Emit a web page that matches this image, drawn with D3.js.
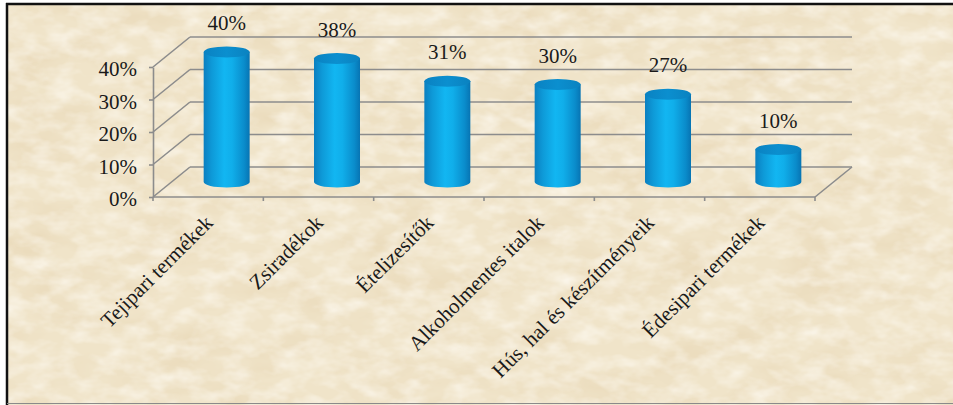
<!DOCTYPE html>
<html>
<head>
<meta charset="utf-8">
<script src="https://cdn.jsdelivr.net/npm/d3@7/dist/d3.min.js"></script>
<style>
  html, body { margin: 0; padding: 0; background: #ffffff; }
  svg { display: block; }
</style>
</head>
<body>
<svg id="chart" width="953" height="405"></svg>
<script>
// ---- data ----
const categories = ["Tejipari termékek", "Zsiradékok", "Ételizesítők", "Alkoholmentes italok", "Hús, hal és készítményeik", "Édesipari termékek"];
const values = [40, 38, 31, 30, 27, 10];
const yTicks = [0, 10, 20, 30, 40];
const tickLabels = ["0%", "10%", "20%", "30%", "40%"];

// ---- layout ----
const W = 953, H = 405;
const front = { left: 153, right: 815, bottom: 197, top: 67 };
const depth = { dx: 37, dy: -30 };
const serif = "'Liberation Serif', 'Times New Roman', serif";

const svg = d3.select("#chart");
const defs = svg.append("defs");

// paper texture
const f = defs.append("filter").attr("id", "paper").attr("x", 0).attr("y", 0).attr("width", 1).attr("height", 1);
f.append("feTurbulence").attr("type", "fractalNoise").attr("baseFrequency", "0.014 0.03").attr("numOctaves", 4).attr("seed", 7).attr("result", "n");
f.append("feColorMatrix").attr("in", "n").attr("type", "matrix")
  .attr("values", "0 0 0 0 0.78  0 0 0 0 0.64  0 0 0 0 0.42  1.1 0 0 0 -0.45");
const f2 = defs.append("filter").attr("id", "paper2").attr("x", 0).attr("y", 0).attr("width", 1).attr("height", 1);
f2.append("feTurbulence").attr("type", "fractalNoise").attr("baseFrequency", "0.04 0.07").attr("numOctaves", 3).attr("seed", 21).attr("result", "n");
f2.append("feColorMatrix").attr("in", "n").attr("type", "matrix")
  .attr("values", "0 0 0 0 1  0 0 0 0 0.98  0 0 0 0 0.93  1.2 0 0 0 -0.45");

// cylinder gradients
const gBody = defs.append("linearGradient").attr("id", "body").attr("x1", "0").attr("x2", "1").attr("y1", "0").attr("y2", "0");
[["0%", "#0b7fc0"], ["18%", "#0e9ad8"], ["45%", "#12b6f2"], ["62%", "#10aeea"], ["88%", "#0a8ccb"], ["100%", "#0774b3"]]
  .forEach(([o, c]) => gBody.append("stop").attr("offset", o).attr("stop-color", c));
const gTop = defs.append("linearGradient").attr("id", "top").attr("x1", "0").attr("x2", "1").attr("y1", "0").attr("y2", "0");
[["0%", "#0a82c2"], ["50%", "#0b8fcf"], ["100%", "#0a82c0"]]
  .forEach(([o, c]) => gTop.append("stop").attr("offset", o).attr("stop-color", c));

// background
svg.append("rect").attr("x", 7).attr("y", 4).attr("width", W - 7).attr("height", H - 4).attr("fill", "#f0e4c9");
svg.append("rect").attr("x", 7).attr("y", 4).attr("width", W - 7).attr("height", H - 4).attr("filter", "url(#paper)");
svg.append("rect").attr("x", 7).attr("y", 4).attr("width", W - 7).attr("height", H - 4).attr("filter", "url(#paper2)");

// frame
svg.append("line").attr("x1", 6).attr("x2", W).attr("y1", 4).attr("y2", 4).attr("stroke", "#111").attr("stroke-width", 2.5);
svg.append("line").attr("x1", 7).attr("x2", 7).attr("y1", 3).attr("y2", H).attr("stroke", "#111").attr("stroke-width", 2.5);
svg.append("line").attr("x1", 7).attr("x2", W).attr("y1", 403.5).attr("y2", 403.5).attr("stroke", "#8a8a8a").attr("stroke-width", 1);

// ---- scales ----
const x = d3.scaleBand().domain(categories).range([front.left, front.right]).paddingInner(0).paddingOuter(0);
const y = d3.scaleLinear().domain([0, 40]).range([front.bottom, front.top]);

const grid = svg.append("g").attr("stroke", "#8c8c8c").attr("stroke-width", 1.6).attr("fill", "none");
// back wall gridlines + side wall diagonals
yTicks.forEach(t => {
  grid.append("line")
    .attr("x1", front.left + depth.dx).attr("x2", front.right + depth.dx)
    .attr("y1", y(t) + depth.dy).attr("y2", y(t) + depth.dy);
  grid.append("line")
    .attr("x1", front.left).attr("x2", front.left + depth.dx)
    .attr("y1", y(t)).attr("y2", y(t) + depth.dy);
});
// floor front edge and right edge
grid.append("line").attr("x1", front.left).attr("x2", front.right).attr("y1", front.bottom).attr("y2", front.bottom);
grid.append("line").attr("x1", front.right).attr("x2", front.right + depth.dx).attr("y1", front.bottom).attr("y2", front.bottom + depth.dy);
// category boundary ticks
const bounds = categories.map(c => x(c)).concat([front.right]);
bounds.forEach(b => grid.append("line").attr("x1", b).attr("x2", b).attr("y1", front.bottom).attr("y2", front.bottom + 4));

// y axis
const yAxis = d3.axisLeft(y).tickValues(yTicks).tickFormat((d, i) => tickLabels[i]).tickSize(4).tickSizeOuter(0).tickPadding(12);
const ya = svg.append("g").attr("transform", `translate(${front.left},0)`).call(yAxis);
ya.select(".domain").attr("stroke", "#8c8c8c").attr("stroke-width", 1.6);
ya.selectAll(".tick line").attr("stroke", "#8c8c8c").attr("stroke-width", 1.6);
ya.selectAll(".tick text").attr("font-family", serif).attr("font-size", 21).attr("fill", "#1a1a1a").attr("dy", "0.42em");

// ---- cylinders ----
const rx = 23, ry = 5.5;
const cx = c => x(c) + x.bandwidth() / 2 + depth.dx / 2;
const yMid = v => y(v) + depth.dy / 2;

const bars = svg.append("g");
categories.forEach((c, i) => {
  const v = values[i];
  const xc = cx(c), yb = yMid(0), yt = yMid(v);
  bars.append("path")
    .attr("d", `M${xc - rx},${yt} L${xc - rx},${yb} A${rx},${ry} 0 0 0 ${xc + rx},${yb} L${xc + rx},${yt} Z`)
    .attr("fill", "url(#body)");
  bars.append("ellipse").attr("cx", xc).attr("cy", yt).attr("rx", rx).attr("ry", ry).attr("fill", "url(#top)");
});

// value labels
svg.append("g").selectAll("text").data(values).join("text")
  .attr("x", (d, i) => cx(categories[i]))
  .attr("y", d => yMid(d) - 22)
  .attr("text-anchor", "middle")
  .attr("font-family", serif).attr("font-size", 21).attr("fill", "#1a1a1a")
  .text(d => d + "%");

// category labels
svg.append("g").selectAll("text").data(categories).join("text")
  .attr("transform", c => `translate(${x(c) + x.bandwidth() / 2 + 6},224) rotate(-45)`)
  .attr("text-anchor", "end")
  .attr("font-family", serif).attr("font-size", 21).attr("fill", "#1a1a1a")
  .text(c => c);
</script>
</body>
</html>
